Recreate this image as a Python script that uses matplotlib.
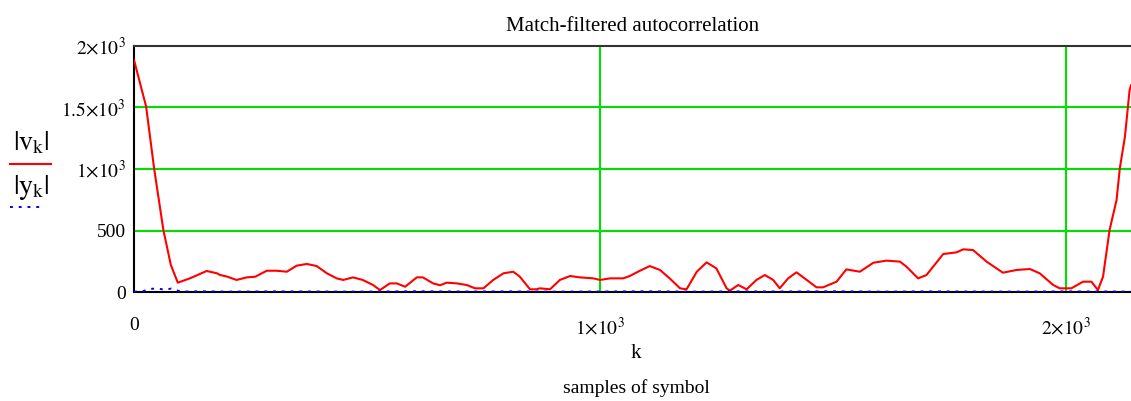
import numpy as np
import matplotlib
matplotlib.use('Agg')
from matplotlib import pyplot as plt
from matplotlib.lines import Line2D

plt.rcParams['font.family'] = ['Liberation Serif', 'DejaVu Serif']
plt.rcParams['mathtext.fontset'] = 'stix'

# |v_k| : autocorrelation magnitude after the matched filter
k_v = [0, 26, 43, 63, 79, 94, 120, 156, 178, 185, 200, 220, 242, 260, 285, 306,
       328, 349, 371, 392, 414, 435, 449, 470, 491, 513, 528, 549, 564, 582, 607,
       620, 642, 657, 671, 693, 714, 732, 750, 771, 793, 814, 828, 850, 864, 871,
       893, 914, 936, 957, 986, 1000, 1022, 1050, 1064, 1086, 1107, 1129, 1150,
       1172, 1186, 1208, 1229, 1250, 1272, 1279, 1297, 1315, 1336, 1354, 1372,
       1386, 1404, 1422, 1444, 1465, 1479, 1508, 1529, 1558, 1587, 1615, 1644,
       1658, 1683, 1701, 1737, 1765, 1780, 1801, 1830, 1865, 1894, 1923, 1944,
       1973, 1987, 2012, 2037, 2055, 2069, 2080, 2094, 2109, 2116, 2127, 2137, 2140]
v_mag = [1886, 1507, 1008, 504, 220, 76, 111, 171, 152, 138, 125, 98, 119, 124, 173, 173,
         165, 214, 228, 211, 152, 111, 98, 119, 98, 57, 16, 70, 70, 43, 119,
         119, 70, 55, 76, 70, 57, 30, 30, 98, 152, 165, 125, 22, 22, 30,
         22, 98, 130, 119, 111, 98, 111, 111, 130, 173, 211, 179, 110,
         30, 22, 165, 241, 192, 30, 11, 57, 22, 98, 138, 98,
         30, 111, 160, 98, 38, 38, 84, 184, 165, 238, 255, 247,
         206, 111, 138, 309, 322, 347, 341, 247, 157, 179, 187, 152,
         57, 30, 30, 84, 84, 16, 125, 504, 748, 1006, 1263, 1642, 1680]

# |y_k| : raw received samples, close to zero
k_y = [0, 20, 35, 50, 65, 80, 95, 110, 140, 200, 300, 400, 500, 600, 700, 800, 900,
       1000, 1100, 1200, 1300, 1400, 1500, 1600, 1700, 1800, 1900, 2000, 2100, 2140]
y_mag = [2, 8, 25, 30, 18, 28, 10, 4, 6, 3, 5, 4, 3, 6, 4, 5, 3,
         4, 6, 3, 5, 4, 6, 3, 5, 4, 3, 5, 4, 3]

x_ticks = [0, 1000, 2000]
x_labels = ['0', r'$1{\times}10^{3}$', r'$2{\times}10^{3}$']
y_ticks = [0, 500, 1000, 1500, 2000]
y_labels = ['0', '500', r'$1{\times}10^{3}$', r'$1.5{\times}10^{3}$', r'$2{\times}10^{3}$']

fig = plt.figure(figsize=(11.31, 4.01), dpi=100)
ax = fig.add_axes([0.1185, 0.2718, 0.8815, 0.6135])

ax.plot(k_v, v_mag, color='#ff0000', linewidth=1.5, zorder=3)
ax.plot(k_y, y_mag, color='#0000ff', linewidth=1.4, linestyle=(0, (1.5, 3)), zorder=4)

ax.set_xlim(0, 2140)
ax.set_ylim(0, 2000)
ax.set_xticks(x_ticks)
ax.set_xticklabels(x_labels)
ax.set_yticks(y_ticks)
ax.set_yticklabels(y_labels)
ax.tick_params(axis='both', length=0, labelsize=14)
ax.tick_params(axis='x', pad=18)
ax.tick_params(axis='y', pad=6)

# green grid only on the interior ticks
for xv in x_ticks[1:]:
    ax.axvline(xv, color='#00e000', linewidth=1.5, zorder=1)
for yv in y_ticks[1:-1]:
    ax.axhline(yv, color='#00e000', linewidth=1.5, zorder=1)

for side in ['left', 'bottom']:
    ax.spines[side].set_linewidth(1.5)
    ax.spines[side].set_color('black')
ax.spines['top'].set_linewidth(1.5)
ax.spines['top'].set_color('#333333')
ax.spines['right'].set_visible(False)

ax.set_title('Match-filtered autocorrelation', fontsize=15, pad=11)
fig.text(636 / 1131, 1 - 353 / 401, 'k', fontsize=15, ha='center', va='center')
fig.text(636 / 1131, 1 - 388 / 401, 'samples of symbol', fontsize=14, ha='center', va='center')

# legend on the left: labels stacked above their line samples
fig.text(31 / 1131, 1 - 143 / 401, r'$|\mathrm{v}_{\mathrm{k}}|$', fontsize=20, ha='center', va='center')
fig.add_artist(Line2D([10 / 1131, 51 / 1131], [1 - 164 / 401] * 2, color='#ff0000', linewidth=1.5))
fig.text(31 / 1131, 1 - 188 / 401, r'$|\mathrm{y}_{\mathrm{k}}|$', fontsize=20, ha='center', va='center')
fig.add_artist(Line2D([10 / 1131, 44 / 1131], [1 - 207 / 401] * 2, color='#0000ff', linewidth=1.4,
                      linestyle=(0, (1.5, 3))))

plt.savefig('out.png', dpi=100)
